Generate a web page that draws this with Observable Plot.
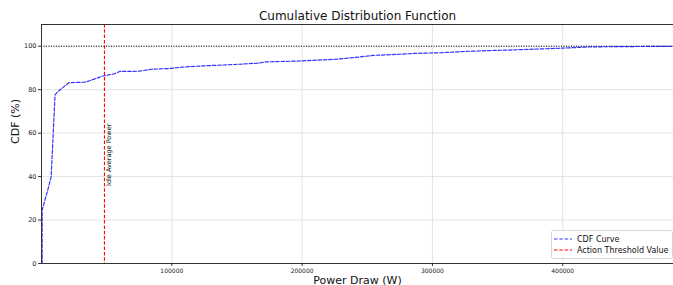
<!DOCTYPE html>
<html>
<head>
<meta charset="utf-8">
<script src="https://cdn.jsdelivr.net/npm/d3@7"></script>
<script src="https://cdn.jsdelivr.net/npm/@observablehq/plot@0.6"></script>
<style>
  html, body { margin: 0; padding: 0; background: #fff; }
  #chart svg { display: block; }
</style>
</head>
<body>
<div id="chart"></div>
<script>
// Data
const powerDraw = [500, 500, 4800, 7400, 10400, 12500, 21000, 34000, 42000, 47000, 56000, 60000, 75000, 84000, 100000, 108000, 122000, 148000, 166000, 172000, 198000, 226000, 237000, 255000, 275000, 286000, 306000, 329000, 344000, 362000, 399000, 421000, 485000];
const cdfPct    = [0, 24.6, 33.8, 39.9, 77.6, 79.1, 83.2, 83.5, 85.2, 86.3, 87.3, 88.4, 88.5, 89.4, 89.8, 90.4, 90.9, 91.6, 92.2, 92.8, 93.2, 94.0, 94.6, 95.8, 96.3, 96.7, 97.0, 97.7, 98.0, 98.3, 99.1, 99.7, 100];
const thresholdValue = 48300;
const thresholdLabel = "Idle Average Power";
const referenceLevel = 100;
const xTicks = [100000, 200000, 300000, 400000];
const yTicks = [0, 20, 40, 60, 80, 100];
const xDomain = [0, 485000];
const yDomain = [0, 110];
const legendLabels = ["CDF Curve", "Action Threshold Value"];
const titleText = "Cumulative Distribution Function";
const xLabel = "Power Draw (W)";
const yLabel = "CDF (%)";

const data = powerDraw.map((p, i) => ({power: p, cdf: cdfPct[i]}));

const W = 673, H = 285;
const mL = 41, mR = 0, mT = 24, mB = 22;

const chart = Plot.plot({
  width: W,
  height: H,
  marginLeft: mL,
  marginRight: mR,
  marginTop: mT,
  marginBottom: mB,
  style: {fontFamily: "DejaVu Sans", fontSize: "6px", color: "#333", background: "#fff", overflow: "visible"},
  x: {domain: xDomain, label: null},
  y: {domain: yDomain, label: null},
  marks: [
    Plot.gridX(xTicks, {stroke: "#dcdcdc", strokeOpacity: 1, strokeWidth: 0.8}),
    Plot.gridY(yTicks, {stroke: "#dcdcdc", strokeOpacity: 1, strokeWidth: 0.8}),
    Plot.axisX({ticks: xTicks, tickFormat: d => String(d), tickSize: 3, tickPadding: 2, fontSize: 6, stroke: "#333", fill: "#222", label: null}),
    Plot.axisY({ticks: yTicks, tickFormat: d => String(d), tickSize: 3, tickPadding: 2, fontSize: 6.5, stroke: "#333", fill: "#222", label: null}),
    Plot.ruleY([referenceLevel], {stroke: "#000", strokeWidth: 1, strokeDasharray: "1,1.5"}),
    Plot.ruleX([thresholdValue], {stroke: "red", strokeWidth: 1.1, strokeDasharray: "3.5,1.8"}),
    Plot.text([thresholdLabel], {x: thresholdValue, y: 50, rotate: -90, dx: 4, fontSize: 6.5, fill: "#111", textAnchor: "middle", lineAnchor: "middle"}),
    Plot.line(data, {x: "power", y: "cdf", stroke: "blue", strokeOpacity: 0.8, strokeWidth: 1.2, strokeDasharray: "3.5,1.8"}),
    // spines
    Plot.ruleX([xDomain[0]], {stroke: "#333", strokeWidth: 1}),
    Plot.ruleY([yDomain[0]], {stroke: "#333", strokeWidth: 1}),
    Plot.ruleY([yDomain[1]], {stroke: "#333", strokeWidth: 1}),
    // titles
    Plot.text([titleText], {frameAnchor: "top", dy: -8, fontSize: 12, fill: "#111", lineAnchor: "middle"}),
    Plot.text([xLabel], {frameAnchor: "bottom", dy: 16.5, fontSize: 11, fill: "#111", lineAnchor: "middle"}),
    Plot.text([yLabel], {frameAnchor: "left", dx: -26, rotate: -90, fontSize: 11, fill: "#111", lineAnchor: "middle"})
  ]
});

// Legend box (lower right), drawn into the same SVG
const svg = d3.select(chart);
const lg = svg.append("g").attr("transform", "translate(551,230)")
  .attr("font-family", "DejaVu Sans").attr("text-anchor", "start");
lg.append("rect").attr("x", 0.5).attr("y", 0.5).attr("width", 121).attr("height", 28)
  .attr("rx", 2).attr("fill", "#fff").attr("fill-opacity", 0.85).attr("stroke", "#ccc").attr("stroke-width", 0.8);
const legendColors = ["blue", "red"];
legendLabels.forEach((lab, i) => {
  const yy = 9 + i * 11;
  lg.append("line").attr("x1", 3).attr("x2", 21).attr("y1", yy).attr("y2", yy)
    .attr("stroke", legendColors[i]).attr("stroke-opacity", i === 0 ? 0.8 : 1)
    .attr("stroke-width", 1.2).attr("stroke-dasharray", "3.5,1.8");
  lg.append("text").attr("x", 26).attr("y", yy).attr("dy", "0.35em")
    .attr("text-anchor", "start")
    .attr("font-size", 8).attr("fill", "#111").text(lab);
});

document.getElementById("chart").appendChild(chart);
</script>
</body>
</html>
